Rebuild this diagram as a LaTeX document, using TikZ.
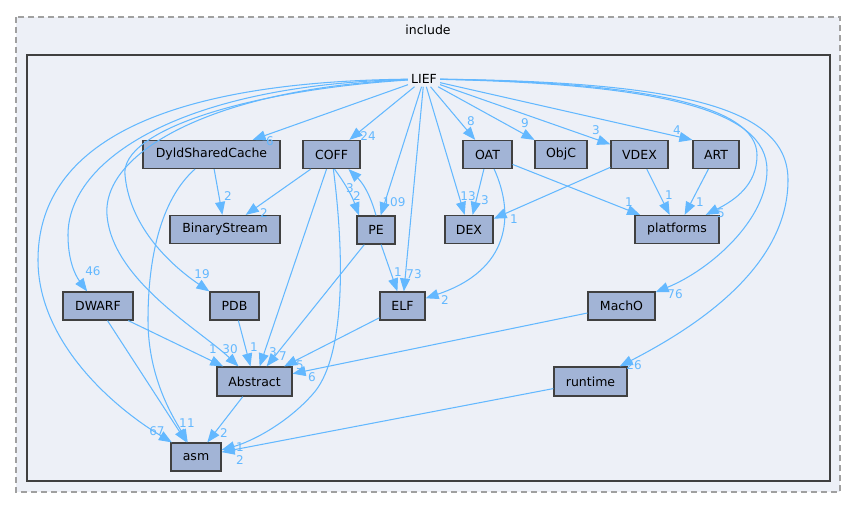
\documentclass[tikz,border=0pt]{standalone}
\usepackage{fontspec}
\setmainfont{DejaVu Sans}
\usetikzlibrary{arrows.meta}
\definecolor{nodefill}{HTML}{A2B4D6}
\definecolor{nodeline}{HTML}{404040}
\definecolor{edgecol}{HTML}{63B8FF}
\definecolor{clusterfill}{HTML}{EDF0F7}
\definecolor{dashcol}{HTML}{A0A0A0}
\begin{document}
\begin{tikzpicture}[x=1pt,y=-1pt,
  dirbox/.style={draw=nodeline, fill=nodefill, line width=1.2pt, minimum height=28pt, inner sep=0pt, font=\fontsize{12.5}{15}\selectfont},
  plainlab/.style={inner sep=3pt, font=\fontsize{12.5}{15}\selectfont},
  edge/.style={draw=edgecol, line width=1.05pt, -{Triangle[length=13pt,width=10pt]}},
  elab/.style={text=edgecol, font=\fontsize{12}{14}\selectfont, inner sep=0pt}]
\useasboundingbox (0,0) rectangle (856,508);
\fill[white] (0,0) rectangle (856,508);
\draw[dashcol, dash pattern=on 6pt off 4pt, fill=clusterfill, line width=1.2pt] (16,17) rectangle (840,492);
\node[plainlab] (incl) at (428,30) {include};
\draw[draw=nodeline, fill=clusterfill, line width=2pt] (27,55) rectangle (830,481);

% nodes
\node[plainlab] (LIEF) at (424,79) {LIEF};
\node[dirbox, minimum width=137pt] (Dyld) at (211.5,154.5) {DyldSharedCache};
\node[dirbox, minimum width=57pt] (COFF) at (331.5,154.5) {COFF};
\node[dirbox, minimum width=110pt] (BS) at (225,229.5) {BinaryStream};
\node[dirbox, minimum width=38pt] (PE) at (376,230) {PE};
\node[dirbox, minimum width=49pt] (OAT) at (487.5,154.5) {OAT};
\node[dirbox, minimum width=52pt] (ObjC) at (561,154.5) {ObjC};
\node[dirbox, minimum width=57pt] (VDEX) at (639.5,154.5) {VDEX};
\node[dirbox, minimum width=46pt] (ART) at (716,154.5) {ART};
\node[dirbox, minimum width=48pt] (DEX) at (469,229.5) {DEX};
\node[dirbox, minimum width=84pt] (plat) at (677,229.5) {platforms};
\node[dirbox, minimum width=70pt] (DWARF) at (98,306) {DWARF};
\node[dirbox, minimum width=49pt] (PDB) at (234.5,306) {PDB};
\node[dirbox, minimum width=45pt] (ELF) at (402.5,306) {ELF};
\node[dirbox, minimum width=67pt] (MachO) at (621.5,306) {MachO};
\node[dirbox, minimum width=75pt, minimum height=29pt] (Abs) at (254.5,381.5) {Abstract};
\node[dirbox, minimum width=73pt, minimum height=29pt] (rt) at (590.5,381.5) {runtime};
\node[dirbox, minimum width=50pt] (asm) at (196,457) {asm};

% edges from LIEF
\draw[edge] (LIEF) -- (Dyld);
\draw[edge] (LIEF) -- (COFF);
\draw[edge] (LIEF) -- (PE);
\draw[edge] (LIEF) -- (ELF);
\draw[edge] (LIEF) -- (DEX);
\draw[edge] (LIEF) -- (OAT);
\draw[edge] (LIEF) -- (ObjC);
\draw[edge] (LIEF) -- (VDEX);
\draw[edge] (LIEF) -- (ART.north west);
\draw[edge] (LIEF) .. controls (640,82) and (757,105) .. (757,155) .. controls (757,185) and (735,200) .. (plat);
\draw[edge] (LIEF) .. controls (660,84) and (767,110) .. (767,170) .. controls (767,220) and (710,270) .. (MachO);
\draw[edge] (LIEF) .. controls (690,82) and (788,110) .. (788,180) .. controls (788,270) and (690,330) .. (rt);
\draw[edge] (LIEF) .. controls (150,82) and (38,150) .. (38,260) .. controls (38,340) and (110,405) .. (asm);
\draw[edge] (LIEF) .. controls (180,85) and (68,160) .. (68,235) .. controls (68,260) and (75,275) .. (DWARF);
\draw[edge] (LIEF) .. controls (220,88) and (102,150) .. (107,215) .. controls (112,280) and (200,330) .. (Abs);
\draw[edge] (LIEF) .. controls (250,90) and (120,130) .. (125,175) .. controls (130,230) and (175,268) .. (PDB.north west);

% other edges
\draw[edge] (Dyld) -- (BS);
\draw[edge] (Dyld) .. controls (160,200) and (148,260) .. (148,320) .. controls (148,380) and (175,420) .. (asm);
\draw[edge] (COFF) -- (BS);
\draw[edge] ([xshift=3pt]COFF.south) to[bend left=8] ([xshift=-17pt]PE.north);
\draw[edge] (PE.north) to[bend right=15] ([xshift=17pt]COFF.south);
\draw[edge] (COFF) -- (Abs);
\draw[edge] (COFF) .. controls (345,260) and (345,360) .. (312,395) .. controls (285,425) and (250,442) .. (asm);
\draw[edge] (PE) -- (ELF);
\draw[edge] (PE) -- (Abs);
\draw[edge] (OAT) -- (DEX);
\draw[edge] (OAT) .. controls (515,215) and (510,270) .. (ELF);
\draw[edge] (OAT) -- (plat);
\draw[edge] (VDEX) -- (DEX);
\draw[edge] (VDEX) -- (plat);
\draw[edge] (ART) -- (plat);
\draw[edge] (DWARF) -- (Abs);
\draw[edge] (DWARF) -- (asm);
\draw[edge] (PDB) -- (Abs);
\draw[edge] (ELF) -- (Abs);
\draw[edge] (MachO) -- (Abs);
\draw[edge] (rt) -- (asm);
\draw[edge] (Abs) -- (asm);

% edge labels
\node[elab] (l1) at (270,141) {6};
\node[elab] (l2) at (368,136) {24};
\node[elab] (l3) at (228,196) {2};
\node[elab] (l4) at (264,213) {2};
\node[elab] (l5) at (350,188) {3};
\node[elab] (l6) at (357,196) {2};
\node[elab] (l7) at (394,202) {109};
\node[elab] (l8) at (471,121) {8};
\node[elab] (l9) at (525,123) {9};
\node[elab] (l10) at (596,130) {3};
\node[elab] (l11) at (677,130) {4};
\node[elab] (l12) at (468,196) {13};
\node[elab] (l13) at (485,200) {3};
\node[elab] (l14) at (514,219) {1};
\node[elab] (l15) at (629,202) {1};
\node[elab] (l16) at (669,195) {1};
\node[elab] (l17) at (700,202) {1};
\node[elab] (l18) at (721,213) {5};
\node[elab] (l19) at (93,271) {46};
\node[elab] (l20) at (202,274) {19};
\node[elab] (l21) at (398,272) {1};
\node[elab] (l22) at (414,274) {73};
\node[elab] (l23) at (445,300) {2};
\node[elab] (l24) at (675,294) {76};
\node[elab] (l25) at (213,349) {1};
\node[elab] (l26) at (230,349) {30};
\node[elab] (l27) at (254,347) {1};
\node[elab] (l28) at (273,352) {3};
\node[elab] (l29) at (283,356) {7};
\node[elab] (l30) at (300,365) {5};
\node[elab] (l31) at (312,377) {6};
\node[elab] (l32) at (634,365) {26};
\node[elab] (l33) at (157,431) {67};
\node[elab] (l34) at (183,423) {1};
\node[elab] (l35) at (191,423) {1};
\node[elab] (l36) at (224,433) {2};
\node[elab] (l37) at (240,447) {1};
\node[elab] (l38) at (240,460) {2};
\end{tikzpicture}
\end{document}
